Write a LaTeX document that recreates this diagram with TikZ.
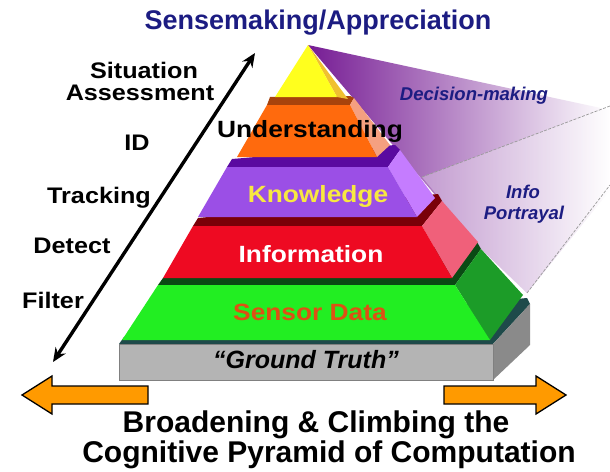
\documentclass[tikz,border=0pt]{standalone}
\usepackage{fontspec}
\setmainfont{Liberation Sans}
\newfontfamily\widesf[FakeStretch=1.12]{Liberation Sans}
\usetikzlibrary{positioning}
\usetikzlibrary{arrows.meta}

\begin{document}
\begin{tikzpicture}[x=1pt,y=-1pt,
	level text/.style={font=\widesf\bfseries\fontsize{23.5}{24}\selectfont,anchor=base,inner sep=0pt},
	proc text/.style={font=\widesf\bfseries\fontsize{22.5}{23}\selectfont,anchor=base,inner sep=0pt},
	fan text/.style={font=\bfseries\itshape\fontsize{18.5}{19}\selectfont,text=navy,anchor=base,inner sep=0pt},
	big arrow/.style={draw=black,fill=arrorange,line width=1.3pt,line join=miter},
	dash line/.style={draw=gray!80,dash pattern=on 3pt off 1.5pt,line width=0.7pt}]
	
	\definecolor{navy}{RGB}{28,28,130}
	\definecolor{fanpurple}{RGB}{118,28,148}
	\definecolor{fanmid}{RGB}{190,150,208}
	\definecolor{slabfront}{RGB}{180,180,180}
	\definecolor{slabside}{RGB}{138,138,138}
	\definecolor{slabtop}{RGB}{30,74,74}
	\definecolor{grfront}{RGB}{34,238,34}
	\definecolor{grside}{RGB}{28,156,40}
	\definecolor{grtop}{RGB}{10,74,20}
	\definecolor{rdfront}{RGB}{238,10,34}
	\definecolor{rdside}{RGB}{240,96,122}
	\definecolor{rdtop}{RGB}{122,0,8}
	\definecolor{pufront}{RGB}{155,79,230}
	\definecolor{puside}{RGB}{197,124,255}
	\definecolor{putop}{RGB}{90,10,160}
	\definecolor{orfront}{RGB}{255,106,13}
	\definecolor{orside}{RGB}{245,160,128}
	\definecolor{ortop}{RGB}{168,67,12}
	\definecolor{yefront}{RGB}{255,255,30}
	\definecolor{yeside}{RGB}{240,192,48}
	\definecolor{kyellow}{RGB}{248,232,64}
	\definecolor{sensorred}{RGB}{222,80,20}
	\definecolor{arrorange}{RGB}{255,154,0}
	
	\useasboundingbox[fill=white] (0,0) rectangle (610,471);
	
	\shade[left color=fanpurple,middle color=fanmid,right color=white]
	(308,45) -- (610,110) -- (610,190) -- (527,293) -- (481,249) -- cycle;
	\fill[white,opacity=0.3] (422,177) -- (610,106) -- (610,190) -- (527,293) -- (481,249) -- (442,201) -- cycle;
	\draw[dash line] (422,177) -- (610,106);
	\draw[dash line] (527,293) -- (610,185);
	
	\fill[slabtop] (119,344) -- (493,344) -- (530,304) -- (527,298) -- (124,337) -- cycle;
	\fill[slabside] (493,344) -- (530,304) -- (530,345) -- (493,380) -- cycle;
	\filldraw[fill=slabfront,draw=gray] (119,344) rectangle (493,380);
	
	\fill[grtop] (158,285) -- (455,285) -- (481,249) -- (477,242) -- (163,278) -- cycle;
	\fill[grside] (455,285) -- (481,249) -- (523,295) -- (490,340) -- cycle;
	\fill[grfront] (122,340) -- (490,340) -- (455,285) -- (158,285) -- cycle;
	
	\fill[rdtop] (193,226) -- (422,226) -- (442,201) -- (438,194) -- (198,218) -- cycle;
	\fill[rdside] (422,226) -- (442,201) -- (478,242) -- (452,278) -- cycle;
	\fill[rdfront] (163,278) -- (452,278) -- (422,226) -- (193,226) -- cycle;
	
	\fill[putop] (227,167) -- (388,167) -- (400,150) -- (395,145) -- (232,159) -- cycle;
	\fill[puside] (388,167) -- (400,150) -- (435,198) -- (417,217) -- cycle;
	\fill[pufront] (198,217) -- (417,217) -- (388,167) -- (227,167) -- cycle;
	
	\fill[ortop] (267,105) -- (350,105) -- (354,98) -- (350,96) -- (270,97) -- cycle;
	\fill[orside] (350,105) -- (354,98) -- (390,145) -- (377,157) -- cycle;
	\fill[orfront] (237,157) -- (377,157) -- (350,105) -- (267,105) -- cycle;
	
	\fill[yeside] (308,45) -- (348,99) -- (337,97) -- cycle;
	\fill[yefront] (275,97) -- (337,97) -- (308,45) -- cycle;
	
	\node[level text] (und) at (310,137) {Understanding};
	\node[level text,text=kyellow] (know) at (318,202) {Knowledge};
	\node[level text,text=white] (info) at (311,262) {Information};
	\node[level text,text=sensorred] (sens) at (310,320) {Sensor Data};
	\node[font=\bfseries\itshape\fontsize{25}{25}\selectfont,anchor=base,inner sep=0pt] (truth) at (306,368) {“Ground Truth”};
	
	\node[fan text] (dec) at (474,100) {Decision-making};
	\node[fan text] (infop) at (523,198) {Info};
	\node[fan text] (portray) at (524,219) {Portrayal};
	
	\coordinate (lo) at (53,362);
	\coordinate (hi) at (255,53);
	\draw[line width=3.4pt,{Stealth[length=14pt,width=12pt]}-{Stealth[length=14pt,width=12pt]}] (lo) -- (hi);
	
	\node[proc text] (sit) at (144,78) {Situation};
	\node[proc text] (assess) at (140,100) {Assessment};
	\node[proc text] (id) at (137,150) {ID};
	\node[proc text] (track) at (99,203) {Tracking};
	\node[proc text] (detect) at (72,253) {Detect};
	\node[proc text] (filter) at (53,308) {Filter};
	
	\draw[big arrow] (148,386) -- (52,386) -- (52,376) -- (22,395) -- (52,414) -- (52,404) -- (148,404) -- cycle;
	\draw[big arrow] (444,386) -- (536,386) -- (536,376) -- (566,395) -- (536,414) -- (536,404) -- (444,404) -- cycle;
	
	\node[font=\bfseries\fontsize{27}{27}\selectfont,text=navy,anchor=base,inner sep=0pt] (title) at (318,29) {Sensemaking/Appreciation};
	\node[font=\bfseries\fontsize{30}{30}\selectfont,anchor=base,inner sep=0pt] (bot1) at (316,432) {Broadening \& Climbing the};
	\node[font=\bfseries\fontsize{30}{30}\selectfont,anchor=base,inner sep=0pt] (bot2) at (329,462) {Cognitive Pyramid of Computation};
\end{tikzpicture}
\end{document}
